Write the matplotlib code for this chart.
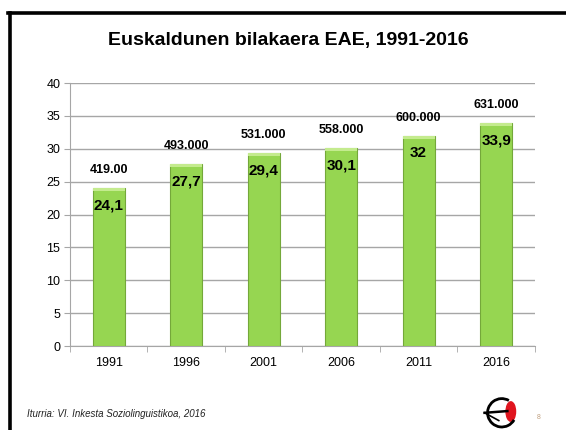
import matplotlib.pyplot as plt
from matplotlib.patches import Ellipse, Arc
from matplotlib.lines import Line2D

years = ["1991", "1996", "2001", "2006", "2011", "2016"]
percent = [24.1, 27.7, 29.4, 30.1, 32, 33.9]
percent_labels = ["24,1", "27,7", "29,4", "30,1", "32", "33,9"]
speakers_labels = ["419.00", "493.000", "531.000", "558.000", "600.000", "631.000"]

plt.rcParams['font.family'] = ['Liberation Sans', 'DejaVu Sans']

fig = plt.figure(figsize=(5.66, 4.30), dpi=100)

# slide frame (left and top black lines)
fig.add_artist(Line2D([0.017, 0.017], [0.0, 0.969], color='black', lw=2.6, transform=fig.transFigure))
fig.add_artist(Line2D([0.015, 1.0], [0.969, 0.969], color='black', lw=2.6, transform=fig.transFigure))

fig.text(0.51, 0.905, "Euskaldunen bilakaera EAE, 1991-2016", ha='center', va='center',
         fontsize=14, fontweight='bold')

ax = fig.add_axes([0.1237, 0.1953, 0.8213, 0.6116])
x = list(range(len(years)))
ax.bar(x, percent, width=0.41, color='#96d651', edgecolor='#74a83a', linewidth=0.8, zorder=3)
# lighter cap on top of each bar
ax.bar(x, [0.5] * len(x), bottom=[p - 0.5 for p in percent], width=0.41,
       color='#c4eb8e', edgecolor='none', zorder=3.5)

for i in x:
    ax.text(i, percent[i] - 2.7, percent_labels[i], ha='center', va='center',
            fontsize=11, fontweight='bold', zorder=4)
    ax.text(i, percent[i] + 2.7, speakers_labels[i], ha='center', va='center',
            fontsize=9, fontweight='bold', zorder=4)

ax.set_ylim(0, 40)
ax.set_xlim(-0.5, len(years) - 0.5)
ax.set_yticks(range(0, 41, 5))
ax.yaxis.grid(True, color='#a6a6a6', linewidth=1)
ax.set_axisbelow(True)
ax.set_xticks(x)
ax.set_xticklabels(years, fontsize=9)
ax.set_xticks([i + 0.5 for i in range(-1, len(years))], minor=True)
ax.tick_params(axis='x', which='major', length=0, pad=8)
ax.tick_params(axis='x', which='minor', length=4, color='#a6a6a6', direction='out')
ax.tick_params(axis='y', length=4, color='#a6a6a6', labelsize=9, pad=3)
for side in ['top', 'right']:
    ax.spines[side].set_visible(False)
ax.spines['left'].set_color('#a6a6a6')
ax.spines['bottom'].set_color('#a6a6a6')

fig.text(0.048, 0.038, "Iturria: VI. Inkesta Soziolinguistikoa, 2016", ha='left', va='center',
         fontsize=7, style='italic', color='#222222')
fig.text(0.952, 0.03, "8", ha='center', va='center', fontsize=5, color='#c0a080')

# small bird logo
logo = fig.add_axes([0.835, 0.0, 0.1, 0.085])
logo.set_xlim(0, 10)
logo.set_ylim(0, 8.5)
logo.set_aspect('equal')
logo.axis('off')
logo.add_patch(Ellipse((7.3, 4.3), 2.2, 4.5, color='#e0141e'))
logo.add_patch(Arc((5.2, 4.0), 6.6, 6.6, theta1=60, theta2=330, color='black', lw=2.0))
logo.plot([1.2, 6.5], [4.0, 4.4], color='black', lw=1.8)
logo.plot([1.2, 4.5], [4.0, 2.2], color='black', lw=1.2)

fig.savefig("out.png", dpi=100)
